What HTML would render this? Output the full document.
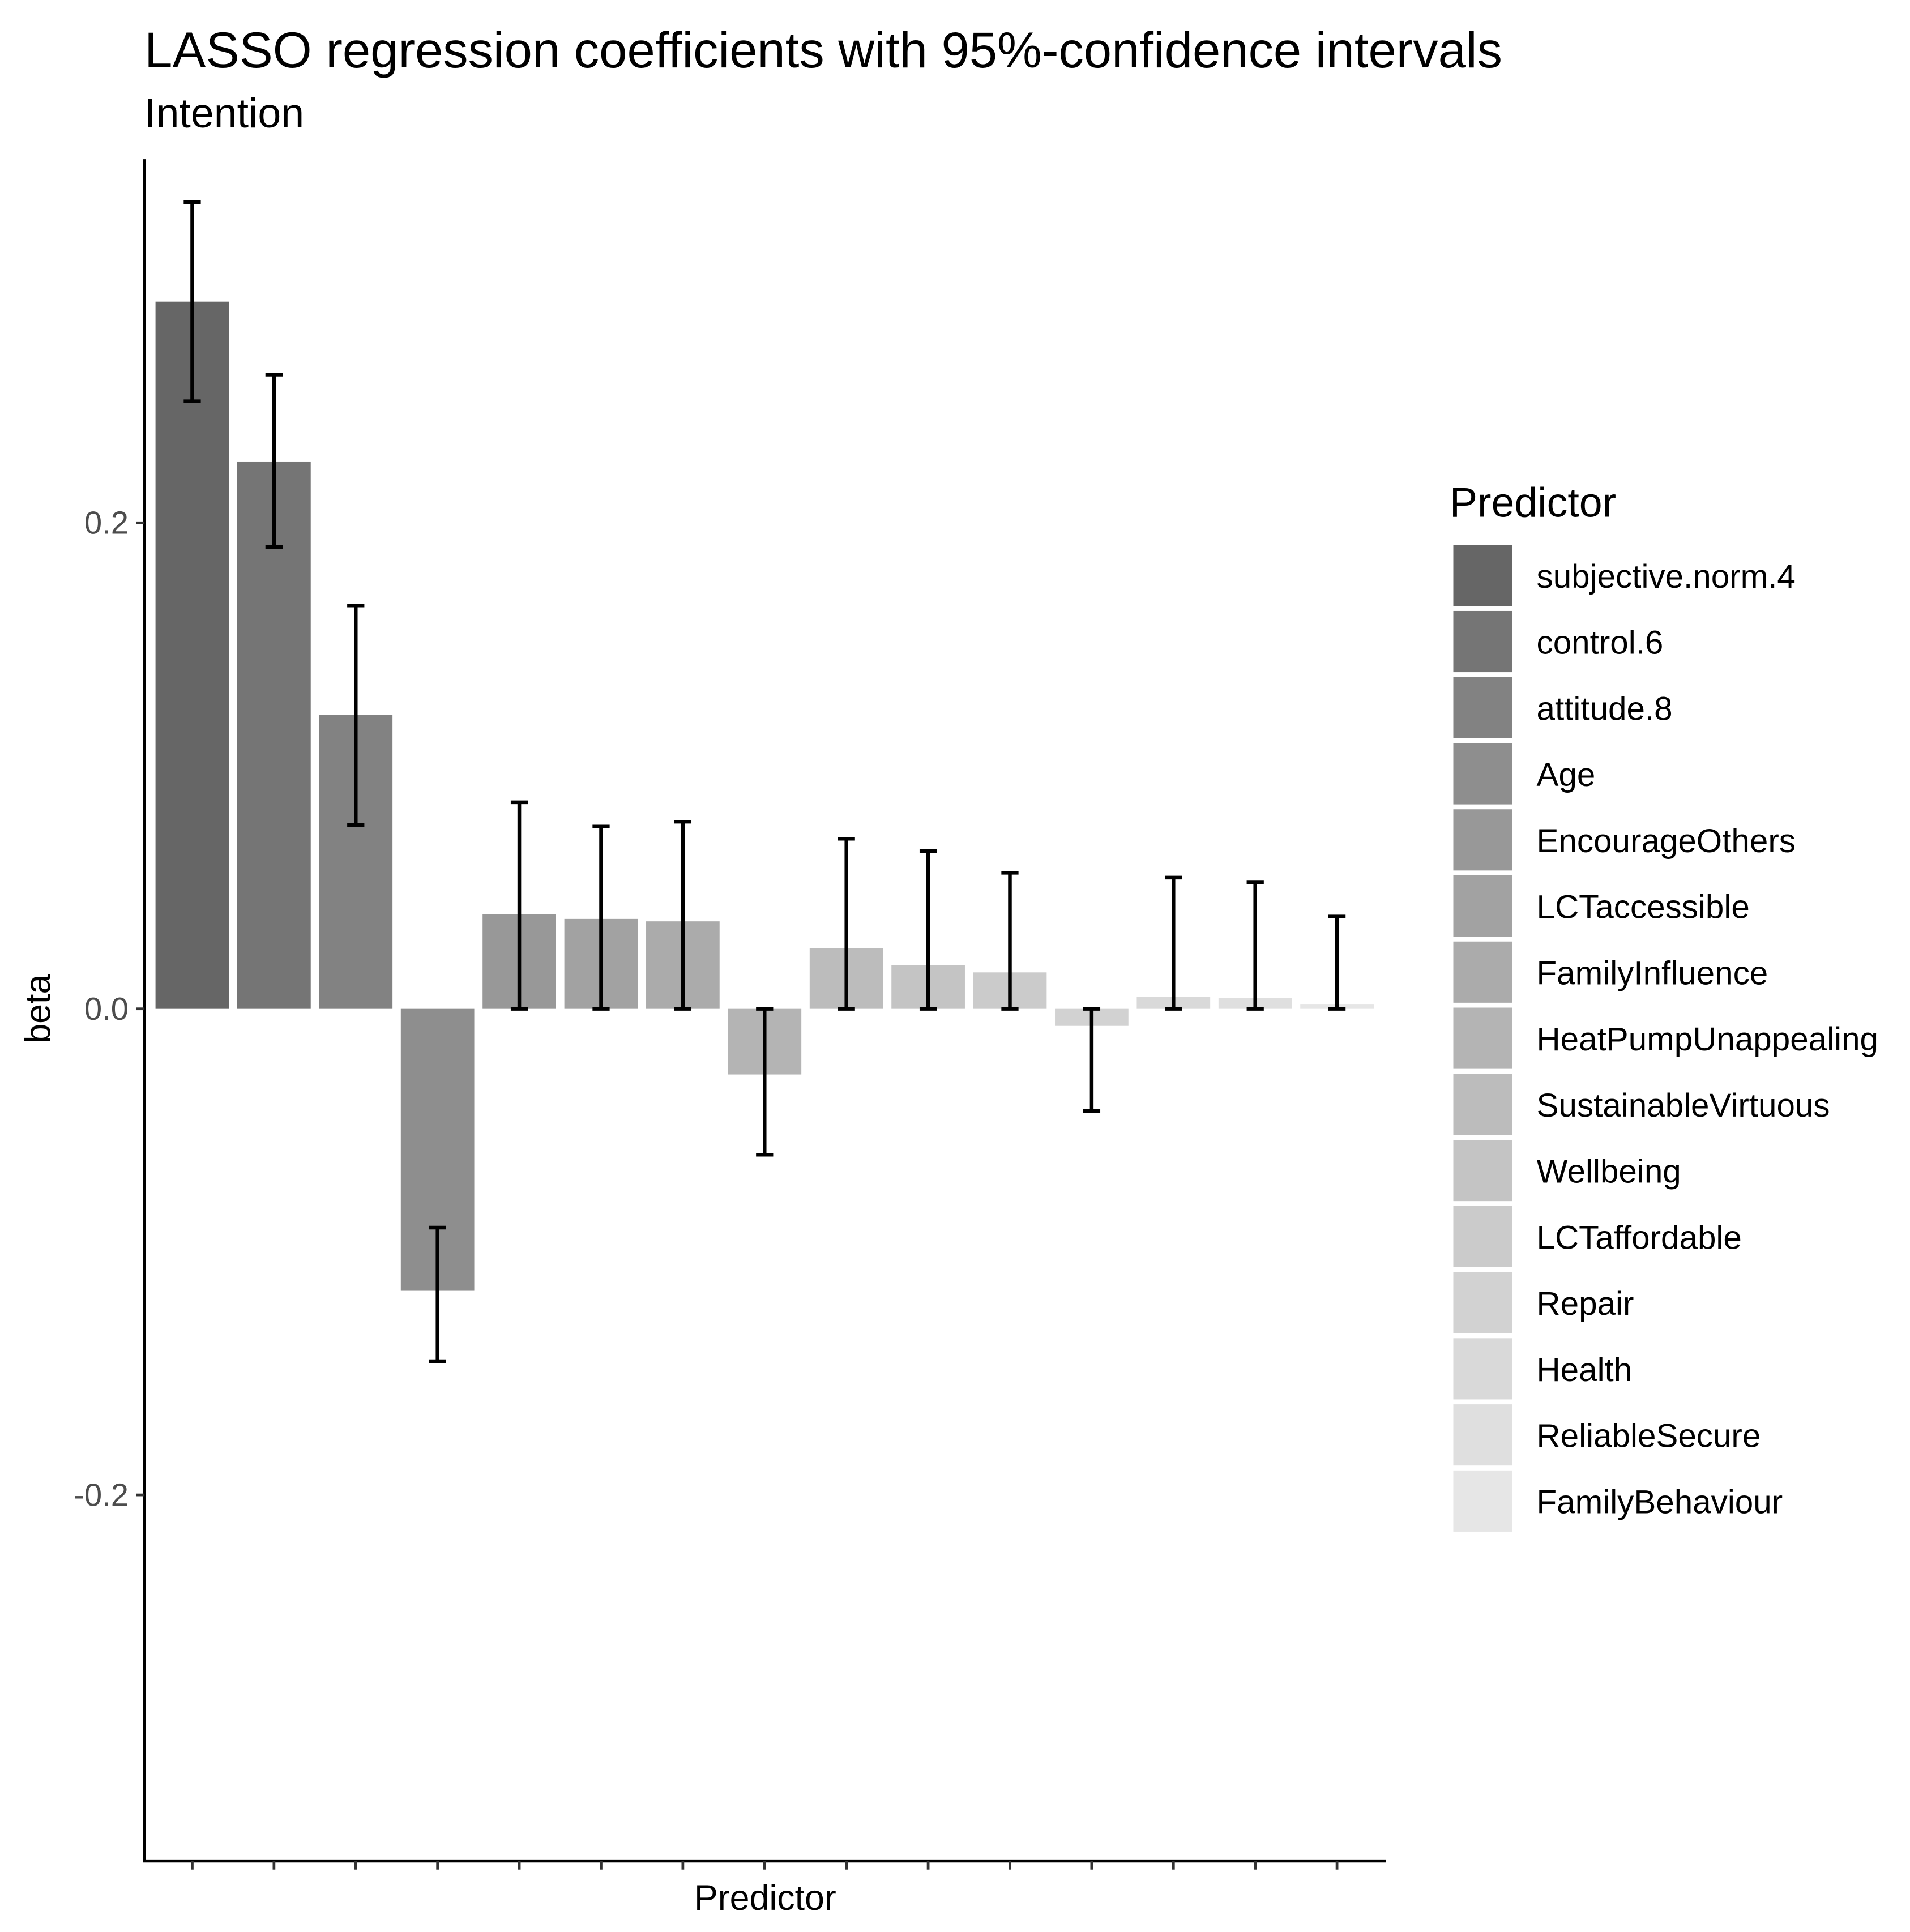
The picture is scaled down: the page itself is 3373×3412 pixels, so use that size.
<!DOCTYPE html>
<html><head><meta charset="utf-8"><style>html,body{margin:0;padding:0;background:#fff}svg{display:block}text{font-family:"Liberation Sans",Arial,sans-serif}</style></head>
<body>
<svg id="chart" width="3373" height="3412" viewBox="0 0 1560 1578" preserveAspectRatio="none" xmlns="http://www.w3.org/2000/svg">
<rect width="1560" height="1578" fill="#fff"/>
<text x="118" y="55" font-size="41" fill="#000">LASSO regression coefficients with 95%-confidence intervals</text>
<text x="118" y="104" font-size="34" fill="#000">Intention</text>
<g id="plot"></g>
</svg>
<script>
const categories = ["subjective.norm.4","control.6","attitude.8","Age","EncourageOthers","LCTaccessible","FamilyInfluence","HeatPumpUnappealing","SustainableVirtuous","Wellbeing","LCTaffordable","Repair","Health","ReliableSecure","FamilyBehaviour"];
const betas = [0.291,0.225,0.121,-0.116,0.039,0.037,0.036,-0.027,0.025,0.018,0.015,-0.007,0.005,0.0045,0.002];
const lower = [0.250,0.190,0.0756,-0.145,0,0,0,-0.060,0,0,0,-0.042,0,0,0];
const upper = [0.332,0.261,0.166,-0.090,0.085,0.075,0.077,0,0.070,0.065,0.056,0,0.054,0.052,0.038];
const yTicks = [-0.2,0.0,0.2];
const yTickLabels = ["-0.2","0.0","0.2"];

const NS="http://www.w3.org/2000/svg";
const plotG=document.getElementById('plot');
function mk(t,a,p){const e=document.createElementNS(NS,t);for(const k in a)e.setAttribute(k,a[k]);(p||plotG).appendChild(e);return e;}
const pLeft=118,pRight=1132,pTop=130,pBottom=1520;
const yScale=v=>824-v*1985;
const step=(1092-157)/14;
const xScale=i=>157+i*step;
const bw=60;
const nCat=categories.length;
function grey(i){const s=Math.pow(0.4,2.2),e=Math.pow(0.9,2.2);const v=Math.pow(s+(e-s)*i/(nCat-1),1/2.2);const c=Math.round(v*255);return `rgb(${c},${c},${c})`;}

categories.forEach((c,i)=>{
  const v=betas[i];
  const r=mk('rect',{x:xScale(i)-bw/2,y:Math.min(yScale(v),yScale(0)),width:bw,height:Math.abs(yScale(v)-yScale(0)),fill:grey(i)});
  
  
});
categories.forEach((c,i)=>{
  const eg=mk('g',{stroke:'#000','stroke-width':3,fill:'none'});
  
  
  const yl=yScale(lower[i]),yu=yScale(upper[i]),cx=xScale(i);
  mk('line',{x1:cx,x2:cx,y1:yu,y2:yl},eg);
  mk('line',{x1:cx-7,x2:cx+7,y1:yu,y2:yu},eg);
  mk('line',{x1:cx-7,x2:cx+7,y1:yl,y2:yl},eg);
});
const ya=mk('line',{x1:pLeft,x2:pLeft,y1:pTop,y2:pBottom+1,stroke:'#000','stroke-width':2.5});

const xa=mk('line',{x1:pLeft-1,x2:pRight,y1:pBottom,y2:pBottom,stroke:'#000','stroke-width':2.5});

yTicks.forEach((t,i)=>{
  mk('line',{x1:pLeft-7,x2:pLeft,y1:yScale(t),y2:yScale(t),stroke:'#333','stroke-width':2.2});
  const tx=mk('text',{x:pLeft-13,y:yScale(t)+9,'text-anchor':'end','font-size':26,fill:'#4d4d4d'});
  
  tx.textContent=yTickLabels[i];
});
categories.forEach((c,i)=>{mk('line',{x1:xScale(i),x2:xScale(i),y1:pBottom,y2:pBottom+7,stroke:'#333','stroke-width':2.2});});
const xt=mk('text',{x:625,y:1560,'text-anchor':'middle','font-size':29,fill:'#000'});
xt.textContent='Predictor';
const yt=mk('text',{x:0,y:0,'text-anchor':'middle','font-size':29,fill:'#000',transform:'translate(41,824) rotate(-90)'});
yt.textContent='beta';
const lg=mk('g',{});

const lt=mk('text',{x:1184,y:422,'font-size':34,fill:'#000'},lg);
lt.textContent='Predictor';
categories.forEach((c,i)=>{
  const ky=445+i*54.0;
  const k=mk('rect',{x:1187,y:ky,width:48,height:50,fill:grey(i)},lg);
  
  const t=mk('text',{x:1255,y:ky+35,'font-size':27,fill:'#000'},lg);
  
  t.textContent=c;
});
</script>
</body></html>
